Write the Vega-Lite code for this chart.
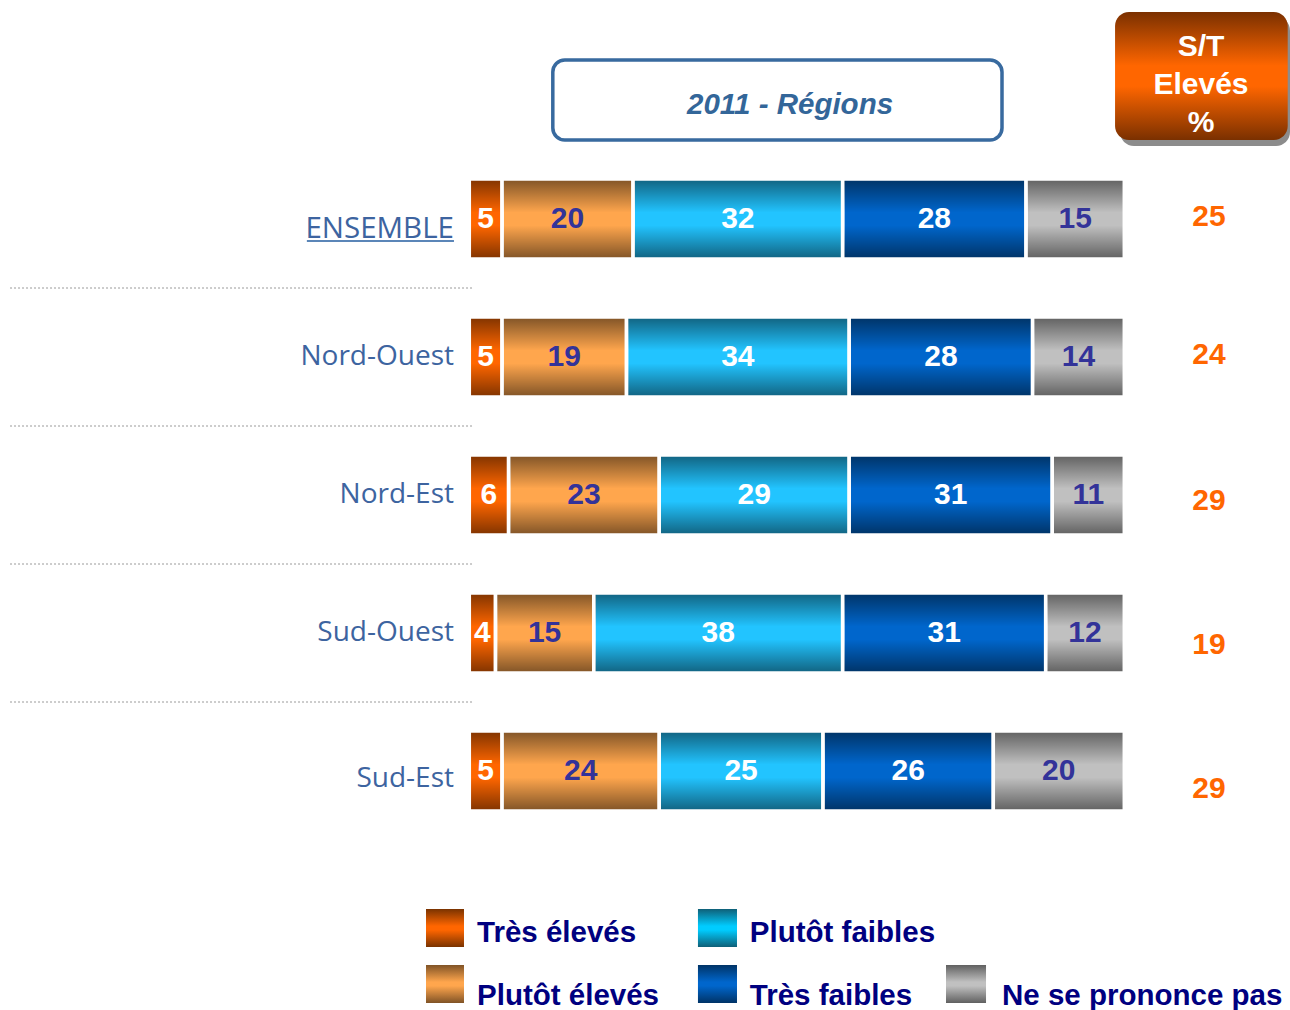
{
  "$schema": "https://vega.github.io/schema/vega-lite/v6.json",
  "padding": 0,
  "spacing": 0,
  "background": "white",
  "config": {"view": {"stroke": null}, "font": "Liberation Sans"},
  "datasets": {
    "shares": [
      {"region": "ENSEMBLE", "cat": "Très élevés", "k": 1, "value": 5},
      {"region": "ENSEMBLE", "cat": "Plutôt élevés", "k": 2, "value": 20},
      {"region": "ENSEMBLE", "cat": "Plutôt faibles", "k": 3, "value": 32},
      {"region": "ENSEMBLE", "cat": "Très faibles", "k": 4, "value": 28},
      {"region": "ENSEMBLE", "cat": "Ne se prononce pas", "k": 5, "value": 15},
      {"region": "Nord-Ouest", "cat": "Très élevés", "k": 1, "value": 5},
      {"region": "Nord-Ouest", "cat": "Plutôt élevés", "k": 2, "value": 19},
      {"region": "Nord-Ouest", "cat": "Plutôt faibles", "k": 3, "value": 34},
      {"region": "Nord-Ouest", "cat": "Très faibles", "k": 4, "value": 28},
      {"region": "Nord-Ouest", "cat": "Ne se prononce pas", "k": 5, "value": 14},
      {"region": "Nord-Est", "cat": "Très élevés", "k": 1, "value": 6},
      {"region": "Nord-Est", "cat": "Plutôt élevés", "k": 2, "value": 23},
      {"region": "Nord-Est", "cat": "Plutôt faibles", "k": 3, "value": 29},
      {"region": "Nord-Est", "cat": "Très faibles", "k": 4, "value": 31},
      {"region": "Nord-Est", "cat": "Ne se prononce pas", "k": 5, "value": 11},
      {"region": "Sud-Ouest", "cat": "Très élevés", "k": 1, "value": 4},
      {"region": "Sud-Ouest", "cat": "Plutôt élevés", "k": 2, "value": 15},
      {"region": "Sud-Ouest", "cat": "Plutôt faibles", "k": 3, "value": 38},
      {"region": "Sud-Ouest", "cat": "Très faibles", "k": 4, "value": 31},
      {"region": "Sud-Ouest", "cat": "Ne se prononce pas", "k": 5, "value": 12},
      {"region": "Sud-Est", "cat": "Très élevés", "k": 1, "value": 5},
      {"region": "Sud-Est", "cat": "Plutôt élevés", "k": 2, "value": 24},
      {"region": "Sud-Est", "cat": "Plutôt faibles", "k": 3, "value": 25},
      {"region": "Sud-Est", "cat": "Très faibles", "k": 4, "value": 26},
      {"region": "Sud-Est", "cat": "Ne se prononce pas", "k": 5, "value": 20}
    ],
    "totals": [
      {"region": "ENSEMBLE", "st": 25},
      {"region": "Nord-Ouest", "st": 24},
      {"region": "Nord-Est", "st": 29},
      {"region": "Sud-Ouest", "st": 19},
      {"region": "Sud-Est", "st": 29}
    ],
    "legend": [
      {"cat": "Très élevés"},
      {"cat": "Plutôt élevés"},
      {"cat": "Plutôt faibles"},
      {"cat": "Très faibles"},
      {"cat": "Ne se prononce pas"}
    ]
  },
  "vconcat": [
    {
      "width": 1290,
      "height": 150,
      "data": {"values": [{}]},
      "encoding": {
        "x": {"type": "quantitative", "scale": {"domain": [-71.65, 125.3], "nice": false, "zero": false}, "axis": null},
        "y": {"type": "quantitative", "scale": {"domain": [0, 100], "reverse": true, "nice": false, "zero": false}, "axis": null}
      },
      "layer": [
        {
          "mark": {"type": "rect", "fill": "#8c8c8c", "cornerRadius": 14},
          "encoding": {"x": {"datum": 99.34}, "x2": {"datum": 125.3}, "y": {"datum": 11}, "y2": {"datum": 97.3}}
        },
        {
          "mark": {"type": "rect", "cornerRadius": 14, "fill": {"gradient": "linear", "x1": 0, "y1": 0, "x2": 0, "y2": 1, "stops": [{"offset": 0, "color": "#7a3000"}, {"offset": 0.42, "color": "#ff6600"}, {"offset": 0.58, "color": "#ff6600"}, {"offset": 1, "color": "#7a3000"}]}},
          "encoding": {"x": {"datum": 98.59}, "x2": {"datum": 124.95}, "y": {"datum": 8}, "y2": {"datum": 93.3}}
        },
        {
          "mark": {"type": "text", "text": ["S/T", "Elevés", "%"], "lineHeight": 38, "fontSize": 30, "fontWeight": "bold", "color": "white", "align": "center", "baseline": "middle"},
          "encoding": {"x": {"datum": 111.71}, "y": {"datum": 31.5}}
        },
        {
          "mark": {"type": "rect", "fill": "white", "stroke": "#386a9f", "strokeWidth": 3.5, "cornerRadius": 12},
          "encoding": {"x": {"datum": 12.75}, "x2": {"datum": 81.33}, "y": {"datum": 40}, "y2": {"datum": 93.3}}
        },
        {
          "mark": {"type": "text", "text": "2011 - Régions", "fontSize": 29.5, "fontWeight": "bold", "fontStyle": "italic", "color": "#336699", "align": "center", "baseline": "middle"},
          "encoding": {"x": {"datum": 48.97}, "y": {"datum": 70}}
        }
      ]
    },
    {
      "width": 1290,
      "height": 690,
      "encoding": {
        "y": {"field": "region", "type": "nominal", "scale": {"domain": ["ENSEMBLE", "Nord-Ouest", "Nord-Est", "Sud-Ouest", "Sud-Est"], "paddingInner": 0, "paddingOuter": 0}, "axis": null}
      },
      "layer": [
        {
          "data": {"name": "totals"},
          "transform": [{"filter": "datum.region != 'ENSEMBLE'"}],
          "mark": {"type": "rule", "color": "#9a9a9a", "strokeWidth": 1, "strokeDash": [2, 2]},
          "encoding": {
            "y": {"field": "region", "type": "nominal", "bandPosition": 0},
            "x": {"datum": -70.12, "type": "quantitative", "scale": {"domain": [-71.65, 125.3], "nice": false, "zero": false}, "axis": null},
            "x2": {"datum": 0.56}
          }
        },
        {
          "data": {"name": "shares"},
          "mark": {"type": "bar", "height": {"band": 0.58}},
          "encoding": {
            "x": {"field": "value", "type": "quantitative", "stack": "zero"},
            "order": {"field": "k"},
            "color": {"field": "cat", "type": "nominal", "legend": null, "scale": {"domain": ["Très élevés", "Plutôt élevés", "Plutôt faibles", "Très faibles", "Ne se prononce pas"], "range": ["#ff6600", "#ffa64d", "#22c4ff", "#0066cc", "#c0c0c0"]}}
          }
        },
        {
          "data": {"name": "shares"},
          "mark": {"type": "bar", "height": {"band": 0.58}, "stroke": "white", "strokeWidth": 3.5, "fill": {"gradient": "linear", "x1": 0, "y1": 0, "x2": 0, "y2": 1, "stops": [{"offset": 0, "color": "rgba(0,0,0,0.5)"}, {"offset": 0.42, "color": "rgba(0,0,0,0)"}, {"offset": 0.58, "color": "rgba(0,0,0,0)"}, {"offset": 1, "color": "rgba(0,0,0,0.5)"}]}},
          "encoding": {
            "x": {"field": "value", "type": "quantitative", "stack": "zero"},
            "order": {"field": "k"},
            "detail": {"field": "cat"}
          }
        },
        {
          "data": {"name": "shares"},
          "mark": {"type": "text", "fontSize": 30, "fontWeight": "bold", "align": "center", "baseline": "middle"},
          "encoding": {
            "x": {"field": "value", "type": "quantitative", "stack": "zero", "bandPosition": 0.5},
            "order": {"field": "k"},
            "text": {"field": "value"},
            "color": {"field": "cat", "type": "nominal", "legend": null, "scale": {"domain": ["Très élevés", "Plutôt élevés", "Plutôt faibles", "Très faibles", "Ne se prononce pas"], "range": ["#ffffff", "#333399", "#ffffff", "#ffffff", "#333399"]}}
          }
        },
        {
          "data": {"name": "totals"},
          "transform": [{"filter": "datum.region != 'ENSEMBLE' && datum.region != 'Sud-Est'"}],
          "mark": {"type": "text", "font": "Open Sans", "fontSize": 28, "color": "#3d64a0", "align": "right", "baseline": "middle"},
          "encoding": {"x": {"datum": -2.34}, "text": {"field": "region"}}
        },
        {
          "data": {"name": "totals"},
          "transform": [{"filter": "datum.region == 'Sud-Est'"}],
          "mark": {"type": "text", "font": "Open Sans", "fontSize": 28, "color": "#3d64a0", "align": "right", "baseline": "middle", "dy": 8},
          "encoding": {"x": {"datum": -2.34}, "text": {"field": "region"}}
        },
        {
          "data": {"name": "totals"},
          "transform": [{"filter": "datum.region == 'ENSEMBLE'"}],
          "mark": {"type": "text", "font": "Open Sans", "fontSize": 29.5, "color": "#3d64a0", "align": "right", "baseline": "middle", "dy": 10},
          "encoding": {"x": {"datum": -2.34}, "text": {"field": "region"}}
        },
        {
          "data": {"name": "totals"},
          "transform": [{"filter": "datum.region == 'ENSEMBLE'"}],
          "mark": {"type": "rule", "color": "#5b86b8", "strokeWidth": 2, "yOffset": 22},
          "encoding": {"x": {"datum": -24.8}, "x2": {"datum": -2.34}}
        },
        {
          "data": {"name": "totals"},
          "transform": [{"filter": "datum.region == 'ENSEMBLE' || datum.region == 'Nord-Ouest'"}],
          "mark": {"type": "text", "fontSize": 30, "fontWeight": "bold", "color": "#ff6600", "align": "center", "baseline": "middle", "dy": -2},
          "encoding": {"x": {"datum": 112.94}, "text": {"field": "st"}}
        },
        {
          "data": {"name": "totals"},
          "transform": [{"filter": "datum.region == 'Nord-Est'"}],
          "mark": {"type": "text", "fontSize": 30, "fontWeight": "bold", "color": "#ff6600", "align": "center", "baseline": "middle", "dy": 6},
          "encoding": {"x": {"datum": 112.94}, "text": {"field": "st"}}
        },
        {
          "data": {"name": "totals"},
          "transform": [{"filter": "datum.region == 'Sud-Ouest'"}],
          "mark": {"type": "text", "fontSize": 30, "fontWeight": "bold", "color": "#ff6600", "align": "center", "baseline": "middle", "dy": 12},
          "encoding": {"x": {"datum": 112.94}, "text": {"field": "st"}}
        },
        {
          "data": {"name": "totals"},
          "transform": [{"filter": "datum.region == 'Sud-Est'"}],
          "mark": {"type": "text", "fontSize": 30, "fontWeight": "bold", "color": "#ff6600", "align": "center", "baseline": "middle", "dy": 18},
          "encoding": {"x": {"datum": 112.94}, "text": {"field": "st"}}
        }
      ],
      "resolve": {"scale": {"color": "independent"}}
    },
    {
      "width": 1290,
      "height": 170,
      "data": {"name": "legend"},
      "encoding": {
        "x": {"type": "quantitative", "scale": {"domain": [-71.65, 125.3], "nice": false, "zero": false}, "axis": null},
        "y": {"type": "quantitative", "scale": {"domain": [0, 100], "reverse": true, "nice": false, "zero": false}, "axis": null}
      },
      "layer": [
        {
          "transform": [{"filter": "datum.cat == 'Très élevés'"}],
          "layer": [
            {"mark": {"type": "rect", "fill": {"gradient": "linear", "x1": 0, "y1": 0, "x2": 0, "y2": 1, "stops": [{"offset": 0, "color": "#7a3300"}, {"offset": 0.45, "color": "#ff6600"}, {"offset": 0.55, "color": "#ff6600"}, {"offset": 1, "color": "#7a3300"}]}},
             "encoding": {"x": {"datum": -6.61}, "x2": {"datum": -0.81}, "y": {"datum": 40.6}, "y2": {"datum": 62.9}}},
            {"mark": {"type": "text", "fontSize": 29.5, "fontWeight": "bold", "color": "#000080", "align": "left", "baseline": "middle"},
             "encoding": {"x": {"datum": 1.18}, "y": {"datum": 54.5}, "text": {"field": "cat"}}}
          ]
        },
        {
          "transform": [{"filter": "datum.cat == 'Plutôt élevés'"}],
          "layer": [
            {"mark": {"type": "rect", "fill": {"gradient": "linear", "x1": 0, "y1": 0, "x2": 0, "y2": 1, "stops": [{"offset": 0, "color": "#805326"}, {"offset": 0.45, "color": "#ffa64d"}, {"offset": 0.55, "color": "#ffa64d"}, {"offset": 1, "color": "#805326"}]}},
             "encoding": {"x": {"datum": -6.61}, "x2": {"datum": -0.81}, "y": {"datum": 73.5}, "y2": {"datum": 95.9}}},
            {"mark": {"type": "text", "fontSize": 29.5, "fontWeight": "bold", "color": "#000080", "align": "left", "baseline": "middle"},
             "encoding": {"x": {"datum": 1.18}, "y": {"datum": 91.6}, "text": {"field": "cat"}}}
          ]
        },
        {
          "transform": [{"filter": "datum.cat == 'Plutôt faibles'"}],
          "layer": [
            {"mark": {"type": "rect", "fill": {"gradient": "linear", "x1": 0, "y1": 0, "x2": 0, "y2": 1, "stops": [{"offset": 0, "color": "#0f6078"}, {"offset": 0.45, "color": "#00ccff"}, {"offset": 0.55, "color": "#00ccff"}, {"offset": 1, "color": "#0f6078"}]}},
             "encoding": {"x": {"datum": 34.91}, "x2": {"datum": 40.87}, "y": {"datum": 40.6}, "y2": {"datum": 62.9}}},
            {"mark": {"type": "text", "fontSize": 29.5, "fontWeight": "bold", "color": "#000080", "align": "left", "baseline": "middle"},
             "encoding": {"x": {"datum": 42.83}, "y": {"datum": 54.5}, "text": {"field": "cat"}}}
          ]
        },
        {
          "transform": [{"filter": "datum.cat == 'Très faibles'"}],
          "layer": [
            {"mark": {"type": "rect", "fill": {"gradient": "linear", "x1": 0, "y1": 0, "x2": 0, "y2": 1, "stops": [{"offset": 0, "color": "#003366"}, {"offset": 0.45, "color": "#0066cc"}, {"offset": 0.55, "color": "#0066cc"}, {"offset": 1, "color": "#003366"}]}},
             "encoding": {"x": {"datum": 34.91}, "x2": {"datum": 40.87}, "y": {"datum": 73.5}, "y2": {"datum": 95.9}}},
            {"mark": {"type": "text", "fontSize": 29.5, "fontWeight": "bold", "color": "#000080", "align": "left", "baseline": "middle"},
             "encoding": {"x": {"datum": 42.83}, "y": {"datum": 91.6}, "text": {"field": "cat"}}}
          ]
        },
        {
          "transform": [{"filter": "datum.cat == 'Ne se prononce pas'"}],
          "layer": [
            {"mark": {"type": "rect", "fill": {"gradient": "linear", "x1": 0, "y1": 0, "x2": 0, "y2": 1, "stops": [{"offset": 0, "color": "#606060"}, {"offset": 0.45, "color": "#c0c0c0"}, {"offset": 0.55, "color": "#c0c0c0"}, {"offset": 1, "color": "#606060"}]}},
             "encoding": {"x": {"datum": 72.78}, "x2": {"datum": 78.89}, "y": {"datum": 73.5}, "y2": {"datum": 95.9}}},
            {"mark": {"type": "text", "fontSize": 29.5, "fontWeight": "bold", "color": "#000080", "align": "left", "baseline": "middle"},
             "encoding": {"x": {"datum": 81.33}, "y": {"datum": 91.6}, "text": {"field": "cat"}}}
          ]
        }
      ]
    }
  ]
}
